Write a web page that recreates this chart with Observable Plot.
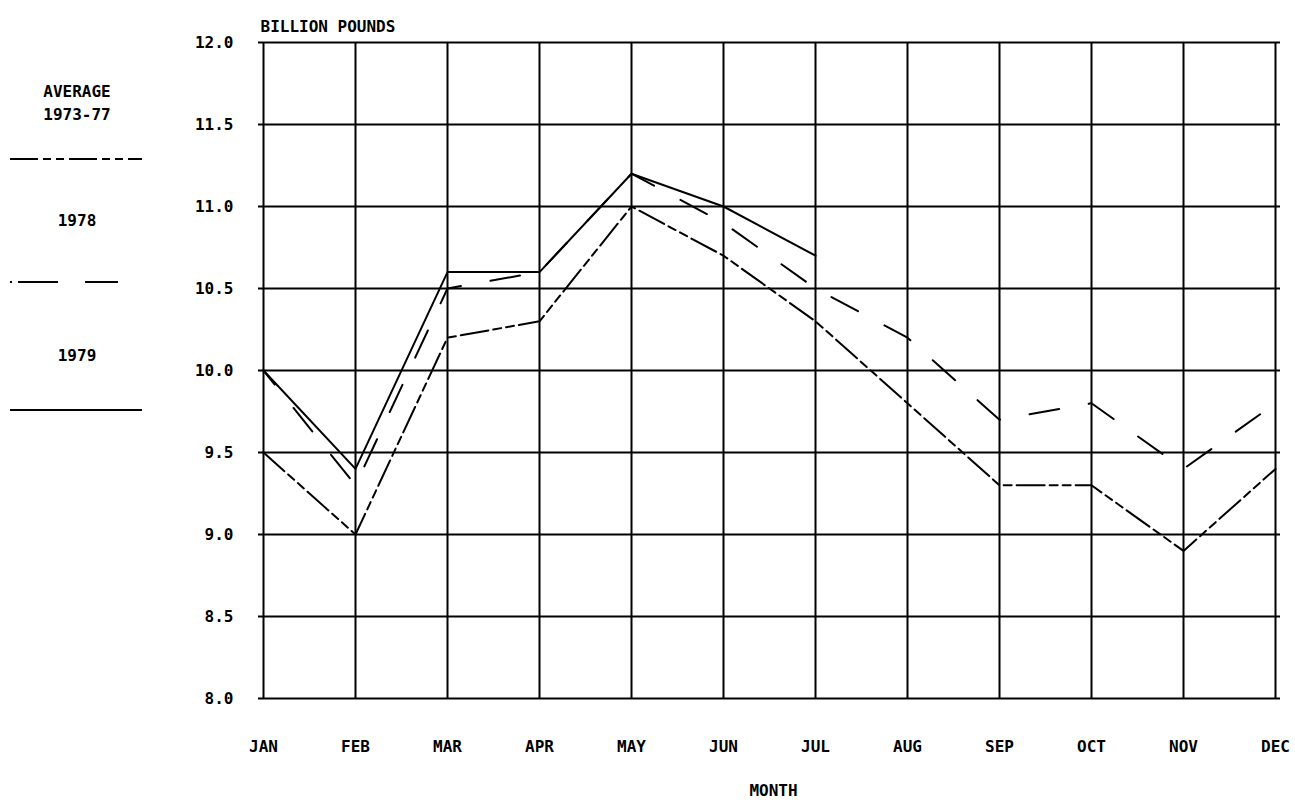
<!DOCTYPE html>
<html><head><meta charset="utf-8">
<script src="https://cdn.jsdelivr.net/npm/d3@7"></script>
<script src="https://cdn.jsdelivr.net/npm/@observablehq/plot@0.6"></script>
<style>
html,body{margin:0;padding:0;background:#fff;}
#chart{position:relative;width:1295px;height:806px;}
</style></head><body><div id="chart"></div>
<script>
const months = ["JAN","FEB","MAR","APR","MAY","JUN","JUL","AUG","SEP","OCT","NOV","DEC"];
const avg7377 = [9.5, 9.0, 10.2, 10.3, 11.0, 10.7, 10.3, 9.8, 9.3, 9.3, 8.9, 9.4];
const y1978   = [10.0, 9.3, 10.5, 10.6, 11.2, 10.9, 10.5, 10.2, 9.7, 9.8, 9.4, 9.8];
const y1979   = [10.0, 9.4, 10.6, 10.6, 11.2, 11.0, 10.7];
const yTicks  = [8.0, 8.5, 9.0, 9.5, 10.0, 10.5, 11.0, 11.5, 12.0];
const titleText = "BILLION POUNDS";
const xTitle = "MONTH";
const legendLabels = [["AVERAGE", "1973-77"], ["1978"], ["1979"]];

const toRows = vals => vals.map((v, i) => ({month: months[i], value: v}));
const rowsAvg = toRows(avg7377), rows78 = toRows(y1978), rows79 = toRows(y1979);

const font = "'DejaVu Sans Mono', 'Liberation Mono', monospace";
const dashAvg = "28,5,8,5,8,5";
const dash78 = "30,30";

const chart = Plot.plot({
  width: 1295, height: 806,
  marginLeft: 258, marginRight: 15, marginTop: 42, marginBottom: 108,
  style: {fontFamily: font, fontSize: "16px", fontWeight: "bold", background: "#fff", color: "#000"},
  x: {type: "point", domain: months, padding: 0, label: null},
  y: {domain: [8, 12], label: null},
  marks: [
    Plot.gridY({ticks: yTicks, stroke: "#000", strokeOpacity: 1, strokeWidth: 2}),
    Plot.gridX({ticks: months, stroke: "#000", strokeOpacity: 1, strokeWidth: 2}),
    Plot.axisY({ticks: yTicks, tickSize: 0, tickPadding: 25, tickFormat: d3.format(".1f"), fontSize: 16, fontWeight: "bold", label: null}),
    Plot.axisX({ticks: months, tickSize: 0, tickPadding: 42, fontSize: 16, fontWeight: "bold", label: null}),
    Plot.line(rowsAvg, {x: "month", y: "value", stroke: "#000", strokeWidth: 2, strokeDasharray: dashAvg}),
    Plot.line(rows78, {x: "month", y: "value", stroke: "#000", strokeWidth: 2, strokeDasharray: dash78, strokeDashoffset: 12}),
    Plot.line(rows79, {x: "month", y: "value", stroke: "#000", strokeWidth: 2}),
    Plot.text([titleText], {text: d => d, frameAnchor: "top-left", dx: 2, dy: -22, textAnchor: "start", fontSize: 16, fontWeight: "bold"}),
    Plot.text([xTitle], {text: d => d, frameAnchor: "bottom", dx: 4, dy: 97, fontSize: 16, fontWeight: "bold"})
  ]
});

// legend on the left, outside the plot frame
const svg = d3.select(chart);
const lg = svg.append("g").attr("font-family", font).attr("font-size", 16).attr("font-weight", "bold").attr("fill", "#000");
const textCenters = [[91, 114], [220], [355]];
const lineYs = [159, 282, 410];
const legendDash = [dashAvg, "2,6,40,27,33,100", null];
legendLabels.forEach((lines, k) => {
  lines.forEach((t, j) => {
    lg.append("text").attr("x", 77).attr("y", textCenters[k][j]).attr("text-anchor", "middle")
      .attr("dominant-baseline", "central").text(t);
  });
  const ln = lg.append("line").attr("x1", 10).attr("x2", 142).attr("y1", lineYs[k]).attr("y2", lineYs[k])
    .attr("stroke", "#000").attr("stroke-width", 2);
  if (legendDash[k]) ln.attr("stroke-dasharray", legendDash[k]);
});

document.getElementById("chart").appendChild(chart);
</script></body></html>
